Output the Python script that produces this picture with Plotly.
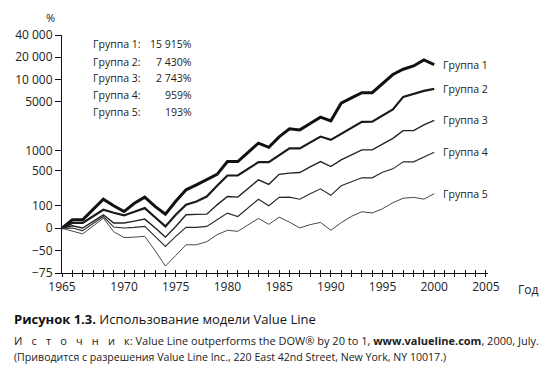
import math
import plotly.graph_objects as go

# ---- data (cumulative return, %) ----
years = list(range(1964, 2001))  # first point = start (0 %)

group1 = [0, 30, 30, 78, 147, 101, 68, 117, 163, 97, 55, 131, 230, 285, 350, 433, 693, 693, 954,
          1302, 1131, 1603, 2083, 2015, 2472, 3035, 2696, 4737, 5600, 6615, 6615, 8800, 11670,
          13760, 15260, 18390, 15915]
group2 = [0, 18, 18, 44, 78, 62, 49, 67, 87, 41, 6, 52, 107, 130, 168, 273, 414, 414, 532, 678,
          678, 860, 1093, 1093, 1337, 1619, 1452, 1769, 2151, 2610, 2636, 3215, 3893, 5779, 6350,
          6980, 7430]
group3 = [0, 8, 1, 24, 52, 18, 18, 25, 33, 2, -24, 6, 52, 54, 55, 107, 168, 163, 246, 350, 291,
          433, 454, 464, 573, 693, 579, 735, 876, 1039, 1039, 1271, 1526, 1970, 1970, 2370, 2743]
group4 = [0, 1, -7, 17, 44, 4, 1, 3, 6, -22, -43, -22, 3, 3, 6, 30, 60, 44, 89, 146, 101, 161,
          163, 146, 191, 240, 178, 273, 323, 378, 378, 467, 532, 685, 685, 817, 959]
group5 = [0, -9, -16, 7, 37, -10, -25, -24, -22, -50, -69, -57, -40, -40, -34, -18, -6, -9, 12,
          36, 13, 41, 21, 1, 12, 20, -6, 19, 45, 67, 61, 83, 121, 154, 161, 147, 193]

series_names = ["Группа 1", "Группа 2", "Группа 3", "Группа 4", "Группа 5"]
series_values = [group1, group2, group3, group4, group5]
total_labels = ["15 915%", "7 430%", "2 743%", "959%", "193%"]

y_tick_pct = [40000, 20000, 10000, 5000, 1000, 500, 100, 0, -50, -75]
y_tick_text = ["40 000", "20 000", "10 000", "5000", "1000", "500", "100", "0", "−50", "−75"]

x_tick_years = list(range(1964, 2006))
x_label_years = [1964, 1970, 1975, 1980, 1985, 1990, 1995, 2000, 2005]
x_label_text = ["1965", "1970", "1975", "1980", "1985", "1990", "1995", "2000", "2005"]

# ---- styling ----
FONT = "Open Sans"
widths = [3.0, 2.2, 1.4, 1.1, 0.9]
colors = ["#111111", "#1a1a1a", "#222222", "#2a2a2a", "#333333"]

# plot-area geometry in pixels (for placing free text)
L, T, PW, PH = 62, 35, 426, 238.3


def px(x):
    return (x - L) / PW


def py(y):
    return (T + PH - y) / PH


def to_mult(p):
    return 1 + p / 100.0


fig = go.Figure()
for name, vals, w, c in zip(series_names, series_values, widths, colors):
    fig.add_trace(go.Scatter(x=years, y=[to_mult(v) for v in vals], mode="lines",
                             line=dict(color=c, width=w), name=name, showlegend=False,
                             hoverinfo="skip"))
    fig.add_annotation(x=years[-1], y=math.log10(to_mult(vals[-1])), xref="x", yref="y",
                       text=name, showarrow=False, xanchor="left", yanchor="middle", xshift=7,
                       font=dict(family=FONT, size=10.5, color="#222"))

ticktext = [x_label_text[x_label_years.index(yv)] if yv in x_label_years else "" for yv in x_tick_years]

fig.update_layout(
    width=544, height=373,
    margin=dict(l=62, r=56, t=35, b=100),
    paper_bgcolor="white", plot_bgcolor="white",
    font=dict(family=FONT, size=12, color="#222"),
    xaxis=dict(range=[1964, 2005.2], tickvals=x_tick_years, ticktext=ticktext,
               ticks="outside", ticklen=3, tickcolor="#111", tickwidth=1,
               showline=True, linecolor="#111", linewidth=1, showgrid=False, zeroline=False,
               tickfont=dict(family=FONT, size=12, color="#222")),
    xaxis2=dict(range=[1964, 2005.2], overlaying="x", anchor="y", side="bottom",
                tickvals=x_tick_years, showticklabels=False, ticks="inside", ticklen=3,
                tickcolor="#111", tickwidth=1, showline=False, showgrid=False, zeroline=False),
    yaxis=dict(type="log", range=[math.log10(0.25), math.log10(401)],
               tickvals=[to_mult(v) for v in y_tick_pct], ticktext=y_tick_text,
               ticks="outside", ticklen=6, tickcolor="#111", tickwidth=1,
               showline=True, linecolor="#111", linewidth=1, showgrid=False, zeroline=False,
               tickfont=dict(family=FONT, size=12, color="#222")),
)
fig.add_trace(go.Scatter(x=[years[0]], y=[1], xaxis="x2", mode="markers",
                         marker=dict(opacity=0), showlegend=False, hoverinfo="skip"))

# summary box
row_y = [44, 61.7, 78.3, 95, 111.7]
for name, tot, yy in zip(series_names, total_labels, row_y):
    fig.add_annotation(x=px(91), y=py(yy), xref="paper", yref="paper", text=name + ":",
                       showarrow=False, xanchor="left", yanchor="middle",
                       font=dict(family=FONT, size=10.5, color="#222"))
    fig.add_annotation(x=px(194), y=py(yy), xref="paper", yref="paper", text=tot,
                       showarrow=False, xanchor="right", yanchor="middle",
                       font=dict(family=FONT, size=10.5, color="#222"))

# axis titles
fig.add_annotation(x=px(50), y=py(17), xref="paper", yref="paper", text="%", showarrow=False,
                   xanchor="center", yanchor="middle",
                   font=dict(family=FONT, size=11, color="#222"))
fig.add_annotation(x=px(528), y=py(290), xref="paper", yref="paper", text="Год",
                   showarrow=False, xanchor="center", yanchor="middle",
                   font=dict(family=FONT, size=12, color="#222"))

# caption
fig.add_annotation(x=px(12), y=py(319), xref="paper", yref="paper",
                   text="<b>Рисунок 1.3.</b> Использование модели Value Line", showarrow=False,
                   xanchor="left", yanchor="middle", font=dict(family=FONT, size=13, color="#111"))
sp = "\u2002\u2009\u2009"
src = sp.join("Источник") + ":"
fig.add_annotation(x=px(12), y=py(341), xref="paper", yref="paper",
                   text=src + " Value Line outperforms the DOW® by 20 to 1, <b>www.valueline.com</b>, 2000, July.",
                   showarrow=False, xanchor="left", yanchor="middle",
                   font=dict(family=FONT, size=11, color="#222"))
fig.add_annotation(x=px(12), y=py(357), xref="paper", yref="paper",
                   text="(Приводится с разрешения Value Line Inc., 220 East 42nd Street, New York, NY 10017.)",
                   showarrow=False, xanchor="left", yanchor="middle",
                   font=dict(family=FONT, size=10.6, color="#222"))

fig.write_html("out.html", config={"displayModeBar": False},
               post_script="document.body.style.margin='0';")
